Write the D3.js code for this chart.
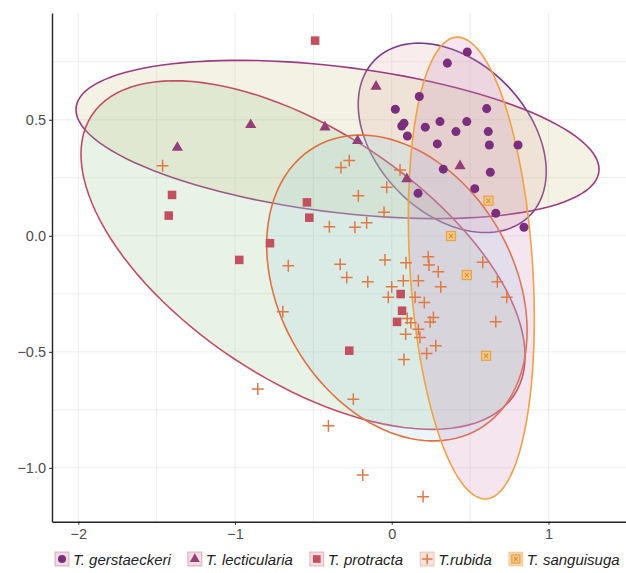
<!DOCTYPE html>
<html>
<head>
<meta charset="utf-8">
<style>
  body { margin: 0; background: #fff; }
  text { font-family: "Liberation Sans", Arial, sans-serif; }
  .axis path, .axis line { stroke: #222; }
  .axis text { fill: #4d4d4d; font-size: 14.5px; }
  .grid line { stroke: #e8e8e8; stroke-width: 0.8; }
</style>
</head>
<body>
<script src="https://cdn.jsdelivr.net/npm/d3@7"></script>
<script>
// ---- data ----
var species = ["T. gerstaeckeri", "T. lecticularia", "T. protracta", "T.rubida", "T. sanguisuga"];

var gerstaeckeri = [
  [0.482, 0.792], [0.355, 0.744], [0.176, 0.600], [0.023, 0.545], [0.606, 0.548],
  [0.078, 0.485], [0.064, 0.473], [0.308, 0.492], [0.479, 0.492], [0.214, 0.468],
  [0.410, 0.449], [0.616, 0.449], [0.100, 0.430], [0.291, 0.396], [0.623, 0.391],
  [0.806, 0.391], [0.329, 0.287], [0.629, 0.274], [0.530, 0.203], [0.168, 0.183],
  [0.664, 0.097], [0.844, 0.037]
];
var lecticularia = [
  [-1.368, 0.380], [-0.900, 0.478], [-0.426, 0.468], [-0.218, 0.409],
  [-0.100, 0.643], [0.436, 0.301], [0.096, 0.245]
];
var protracta = [
  [-0.489, 0.841], [-1.402, 0.176], [-1.423, 0.087], [-0.541, 0.144],
  [-0.526, 0.078], [-0.777, -0.032], [-0.973, -0.104], [0.057, -0.251],
  [0.066, -0.323], [0.034, -0.371], [-0.271, -0.495]
];
var rubida = [
  [-1.462, 0.302], [-0.271, 0.324], [-0.324, 0.294], [0.053, 0.284], [-0.032, 0.209],
  [-0.213, 0.172], [-0.049, 0.101], [-0.160, 0.056], [-0.235, 0.037], [-0.398, 0.039],
  [-0.660, -0.129], [-0.329, -0.123], [-0.287, -0.180], [-0.695, -0.327], [-0.855, -0.660],
  [-0.245, -0.704], [-0.404, -0.819], [-0.185, -1.031], [0.200, -1.124], [0.089, -0.424],
  [0.180, -0.438], [0.281, -0.474], [0.223, -0.507], [0.078, -0.533], [0.233, -0.090],
  [0.238, -0.126], [0.091, -0.116], [0.297, -0.155], [-0.043, -0.104], [-0.153, -0.198],
  [0.074, -0.194], [0.170, -0.194], [0.313, -0.220], [0.000, -0.220], [-0.022, -0.265],
  [0.149, -0.265], [0.208, -0.288], [0.099, -0.356], [0.122, -0.375], [0.266, -0.352],
  [0.245, -0.371], [0.170, -0.403], [0.581, -0.114], [0.674, -0.198], [0.734, -0.265],
  [0.664, -0.370]
];
var sanguisuga = [
  [0.617, 0.151], [0.378, -0.001], [0.479, -0.169], [0.602, -0.517]
];

// 95% ellipses: centre, half-width, half-height, correlation (data units)
var ellipseCx = [0.386, -0.346, -0.566, 0.033, 0.508];
var ellipseCy = [0.422, 0.415, -0.083, -0.225, -0.139];
var ellipseWx = [0.600, 1.669, 1.417, 0.831, 0.402];
var ellipseWy = [0.408, 0.341, 0.751, 0.659, 0.995];
var ellipseR  = [-0.354, -0.377, -0.579, -0.28, -0.22];

var xTicks = [-2, -1, 0, 1];
var yTicks = [-1.0, -0.5, 0.0, 0.5];
var xMinor = [-1.5, -0.5, 0.5];
var yMinor = [-0.75, -0.25, 0.25, 0.75];

// ---- look ----
var lineCol = ["#7b3b8b", "#9a3c82", "#c24e66", "#e0713f", "#f0a246"];
var fillCol = ["#dfa7ab", "#cfc383", "#9bc38b", "#a2d0ea", "#cf87b7"];
var ptCol   = ["#7a2f7e", "#93407a", "#c2505f", "#de7a45", "#e9a447"];
var keyFill = ["#f4dbe0", "#f4dbe0", "#f4dce0", "#f6e3df", "#f5d3b0"];

var width = 626, height = 573;
var svg = d3.select("body").append("svg")
    .attr("width", width)
    .attr("height", height);

var x = d3.scaleLinear().domain([-2.168, 1.495]).range([52, 626]);
var y = d3.scaleLinear().domain([-1.232, 0.960]).range([521.7, 13]);

// grid
var grid = svg.append("g").attr("class", "grid");
grid.selectAll("line.v")
    .data(xTicks.concat(xMinor))
    .enter().append("line")
    .attr("x1", function(d) { return x(d); })
    .attr("x2", function(d) { return x(d); })
    .attr("y1", y.range()[0])
    .attr("y2", y.range()[1]);
grid.selectAll("line.h")
    .data(yTicks.concat(yMinor))
    .enter().append("line")
    .attr("y1", function(d) { return y(d); })
    .attr("y2", function(d) { return y(d); })
    .attr("x1", x.range()[0])
    .attr("x2", x.range()[1]);

// ellipses
var ellipses = species.map(function(s, i) {
    var pts = d3.range(0, 120).map(function(k) {
        var t = k / 120 * 2 * Math.PI;
        var r = ellipseR[i];
        return [ellipseCx[i] + ellipseWx[i] * Math.cos(t),
                ellipseCy[i] + ellipseWy[i] * (r * Math.cos(t) + Math.sqrt(1 - r * r) * Math.sin(t))];
    });
    return { i: i, pts: pts };
});

var line = d3.line()
    .x(function(d) { return x(d[0]); })
    .y(function(d) { return y(d[1]); })
    .curve(d3.curveLinearClosed);

svg.append("g").selectAll("path")
    .data(ellipses)
    .enter().append("path")
    .attr("d", function(d) { return line(d.pts); })
    .attr("fill", function(d) { return fillCol[d.i]; })
    .attr("fill-opacity", 0.22)
    .attr("stroke", function(d) { return lineCol[d.i]; })
    .attr("stroke-width", 1.6);

// point shapes
function drawShape(g, i, size) {
    var h = size / 2;
    if (i === 0) {
        g.append("circle").attr("r", h * 0.95).attr("fill", ptCol[0]);
    } else if (i === 1) {
        g.append("path")
            .attr("d", d3.symbol().type(d3.symbolTriangle).size(size * size * 0.6)())
            .attr("fill", ptCol[1]);
    } else if (i === 2) {
        g.append("rect").attr("x", -h * 0.9).attr("y", -h * 0.9)
            .attr("width", h * 1.8).attr("height", h * 1.8)
            .attr("fill", ptCol[2]);
    } else if (i === 3) {
        var a = h * 1.25;
        g.append("path")
            .attr("d", "M" + (-a) + ",0H" + a + "M0," + (-a) + "V" + a)
            .attr("stroke", ptCol[3]).attr("stroke-width", 1.5).attr("fill", "none");
    } else {
        var b = h * 0.95;
        g.append("rect").attr("x", -b).attr("y", -b)
            .attr("width", 2 * b).attr("height", 2 * b)
            .attr("fill", "#f3c98a").attr("stroke", ptCol[4]).attr("stroke-width", 1.3);
        var c = b * 0.45;
        g.append("path")
            .attr("d", "M" + (-c) + "," + (-c) + "L" + c + "," + c + "M" + (-c) + "," + c + "L" + c + "," + (-c))
            .attr("stroke", "#d98f35").attr("stroke-width", 1.1);
    }
}

var groups = [gerstaeckeri, lecticularia, protracta, rubida, sanguisuga];
groups.forEach(function(data, i) {
    svg.append("g").selectAll("g")
        .data(data)
        .enter().append("g")
        .attr("transform", function(d) { return "translate(" + x(d[0]) + "," + y(d[1]) + ")"; })
        .each(function() { drawShape(d3.select(this), i, 9.5); });
});

// axes
var xAxis = d3.axisBottom(x).tickValues(xTicks).tickSize(3).tickSizeOuter(0).tickPadding(4)
    .tickFormat(d3.format("d"));
var yAxis = d3.axisLeft(y).tickValues(yTicks).tickSize(3).tickSizeOuter(0).tickPadding(3)
    .tickFormat(d3.format(".1f"));

svg.append("g").attr("class", "axis")
    .attr("transform", "translate(0," + y.range()[0] + ")")
    .call(xAxis)
    .call(function(g) { g.select(".domain").attr("stroke-width", 1.4); });
svg.append("g").attr("class", "axis")
    .attr("transform", "translate(" + x.range()[0] + ",0)")
    .call(yAxis)
    .call(function(g) { g.select(".domain").attr("stroke-width", 1.4); });

// legend
var legend = svg.append("g").attr("transform", "translate(0,559)");
var cursor = 55;
species.forEach(function(s, i) {
    var item = legend.append("g").attr("transform", "translate(" + cursor + ",0)");
    item.append("rect")
        .attr("x", 0).attr("y", -7).attr("width", 14).attr("height", 14)
        .attr("fill", keyFill[i])
        .attr("stroke", lineCol[i]).attr("stroke-opacity", 0.35).attr("stroke-width", 1);
    var key = item.append("g").attr("transform", "translate(7,0)");
    drawShape(key, i, 8.5);
    var t = item.append("text")
        .attr("x", 18).attr("y", 5.5)
        .attr("font-size", "15px")
        .attr("font-style", "italic")
        .attr("fill", "#222")
        .text(s);
    cursor += 18 + t.node().getComputedTextLength() + 17;
});
</script>
</body>
</html>
